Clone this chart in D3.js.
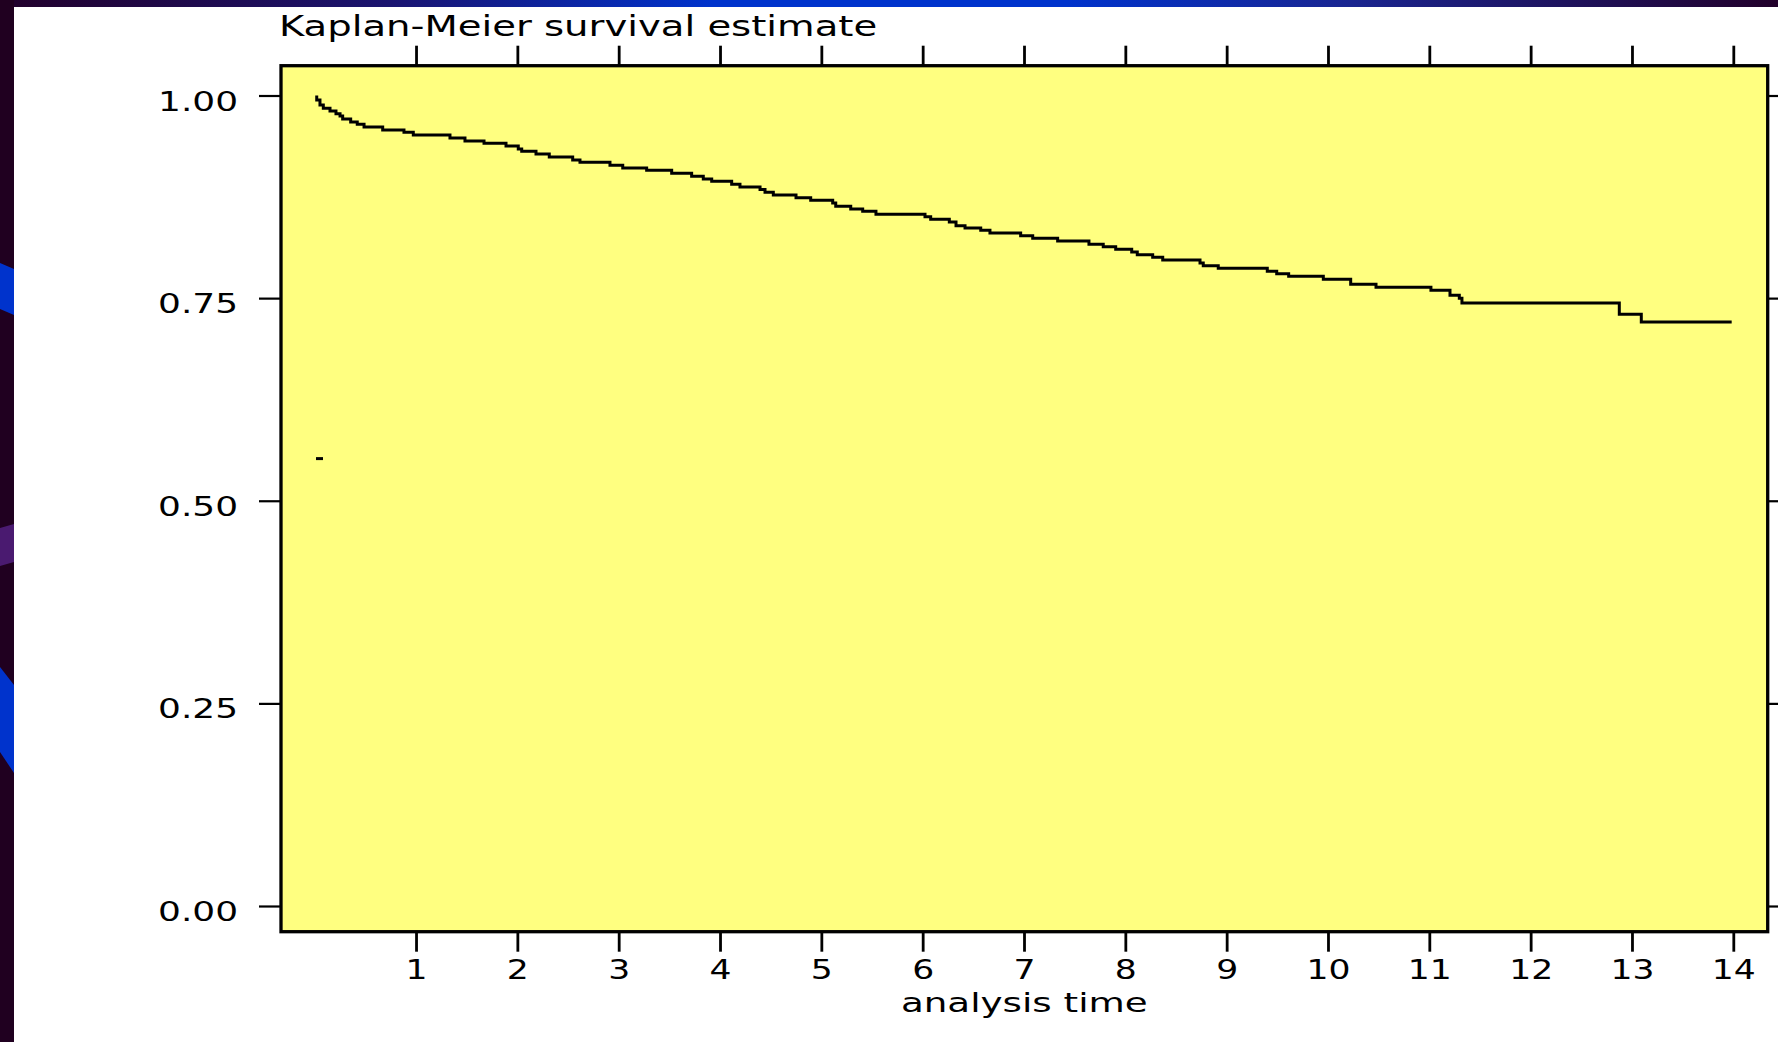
<!DOCTYPE html>
<html>
<head>
<meta charset="utf-8">
<script src="https://cdn.jsdelivr.net/npm/d3@7/dist/d3.min.js"></script>
<style>
  html, body { margin: 0; padding: 0; background: #ffffff; }
  svg { display: block; }
  text { font-family: "DejaVu Sans", "Liberation Sans", sans-serif; fill: #000; }
</style>
</head>
<body>
<svg id="chart" width="1778" height="1042"></svg>
<script>
// ---------------- data ----------------
const chartTitle = "Kaplan-Meier survival estimate";
const xAxisTitle = "analysis time";
const xTickValues = [1, 2, 3, 4, 5, 6, 7, 8, 9, 10, 11, 12, 13, 14];
const yTickValues = [0, 0.25, 0.5, 0.75, 1];

// step times (analysis time) and survival estimate after each step
const stepTimes = [0.02, 0.02, 0.052, 0.085, 0.151, 0.210, 0.250, 0.276, 0.355, 0.420, 0.487, 0.671, 0.881, 0.973,
  1.335, 1.483, 1.671, 1.888,
  2.009, 2.043, 2.184, 2.315, 2.546, 2.618, 2.914,
  3.040, 3.276, 3.523, 3.720, 3.835, 3.918,
  4.115, 4.197, 4.395, 4.444, 4.526, 4.750, 4.895,
  5.112, 5.142, 5.290, 5.408, 5.539,
  6.023, 6.079, 6.263, 6.329, 6.418, 6.573, 6.664, 6.967,
  7.086, 7.332, 7.641, 7.782, 7.905,
  8.063, 8.118, 8.270, 8.369, 8.737, 8.769, 8.917,
  9.401, 9.494, 9.612, 9.954,
  10.224, 10.474,
  11.016, 11.204, 11.296, 11.322,
  12.875, 13.092, 13.984];
const survival = [1.0, 0.9944, 0.9883, 0.9842, 0.9809, 0.9775, 0.9747, 0.9710, 0.9673, 0.9644, 0.9611, 0.9574, 0.9546, 0.9513,
  0.9476, 0.9439, 0.9410, 0.9377,
  0.9340, 0.9312, 0.9278, 0.9241, 0.9204, 0.9176, 0.9139,
  0.9105, 0.9077, 0.9040, 0.9003, 0.8970, 0.8941,
  0.8904, 0.8871, 0.8840, 0.8806, 0.8772, 0.8739, 0.8707,
  0.8674, 0.8633, 0.8600, 0.8571, 0.8534,
  0.8505, 0.8472, 0.8439, 0.8393, 0.8365, 0.8337, 0.8303, 0.8270,
  0.8238, 0.8205, 0.8164, 0.8135, 0.8102,
  0.8069, 0.8036, 0.8004, 0.7970, 0.7933, 0.7900, 0.7868,
  0.7831, 0.7801, 0.7769, 0.7732,
  0.7671, 0.7634,
  0.7597, 0.7535, 0.7498, 0.7440,
  0.7300, 0.7205, 0.7205];

// small stray mark seen near the start of the plot
const strayTimes = [0.013, 0.082];
const strayValues = [0.552, 0.552];

// ---------------- layout ----------------
const W = 1778, H = 1042;
const frame = { left: 281, top: 65.7, right: 1767.7, bottom: 931.7 };
const TEXT_STRETCH = 1.33;

const svg = d3.select("#chart");

// background decoration
const defs = svg.append("defs");
const grad = defs.append("linearGradient").attr("id", "topbar").attr("x1", 0).attr("x2", 1).attr("y1", 0).attr("y2", 0);
[[0, "#22002a"], [0.22, "#1a1470"], [0.4, "#0033cc"], [0.6, "#0033cc"], [0.76, "#1a2590"], [1, "#22002a"]]
  .forEach(([o, c]) => grad.append("stop").attr("offset", o).attr("stop-color", c));

svg.append("rect").attr("x", 0).attr("y", 0).attr("width", W).attr("height", H).attr("fill", "#ffffff");
svg.append("rect").attr("x", 0).attr("y", 0).attr("width", W).attr("height", 7).attr("fill", "url(#topbar)");
svg.append("rect").attr("x", 0).attr("y", 0).attr("width", 14).attr("height", H).attr("fill", "#200020");
const deco = [
  { pts: [[0, 263], [14, 269], [14, 315], [0, 309]], c: "#0033cc" },
  { pts: [[0, 528], [14, 524], [14, 562], [0, 566]], c: "#4a1a70" },
  { pts: [[0, 667], [14, 685], [14, 773], [0, 752]], c: "#0033cc" }
];
svg.selectAll("polygon.deco").data(deco).join("polygon").attr("class", "deco")
  .attr("points", d => d.pts.map(p => p.join(",")).join(" ")).attr("fill", d => d.c);

// scales: ticks measured at t=0 -> 314.7, t=14 -> 1733.3 ; S=1 -> 95.5, S=0 -> 906
const x = d3.scaleLinear().domain([0, 14]).range([314.7, 1733.3]);
const y = d3.scaleLinear().domain([0, 1]).range([906, 95.5]);

// plot region
svg.append("rect")
  .attr("x", frame.left).attr("y", frame.top)
  .attr("width", frame.right - frame.left).attr("height", frame.bottom - frame.top)
  .attr("fill", "#ffff80");

function stretch(sel, k) {
  sel.each(function () {
    const w = this.getComputedTextLength();
    this.setAttribute("textLength", w * k);
    this.setAttribute("lengthAdjust", "spacingAndGlyphs");
  });
}

// axes
const gLeft = svg.append("g").attr("transform", `translate(${frame.left},0)`)
  .call(d3.axisLeft(y).tickValues(yTickValues).tickFormat(d3.format(".2f")).tickSize(22).tickPadding(21));
const gRight = svg.append("g").attr("transform", `translate(${frame.right},0)`)
  .call(d3.axisRight(y).tickValues(yTickValues).tickFormat("").tickSize(22));
const gBottom = svg.append("g").attr("transform", `translate(0,${frame.bottom})`)
  .call(d3.axisBottom(x).tickValues(xTickValues).tickFormat(d3.format("d")).tickSize(20).tickPadding(8));
const gTop = svg.append("g").attr("transform", `translate(0,${frame.top})`)
  .call(d3.axisTop(x).tickValues(xTickValues).tickFormat("").tickSize(20));

[gLeft, gRight, gBottom, gTop].forEach(g => {
  g.select(".domain").remove();
  g.selectAll("text").attr("font-family", null).attr("font-size", null);
});
gLeft.selectAll(".tick line").attr("stroke", "#000").attr("stroke-width", 2.2);
gRight.selectAll(".tick line").attr("stroke", "#000").attr("stroke-width", 2.2);
gBottom.selectAll(".tick line").attr("stroke", "#000").attr("stroke-width", 2.8);
gTop.selectAll(".tick line").attr("stroke", "#000").attr("stroke-width", 2.8);

gLeft.selectAll(".tick text").style("font-size", "27px").attr("dy", "0.54em");
gBottom.selectAll(".tick text").style("font-size", "27px");
stretch(gLeft.selectAll(".tick text"), TEXT_STRETCH);
stretch(gBottom.selectAll(".tick text"), 1.28);

// frame on top of ticks
svg.append("rect")
  .attr("x", frame.left).attr("y", frame.top)
  .attr("width", frame.right - frame.left).attr("height", frame.bottom - frame.top)
  .attr("fill", "none").attr("stroke", "#000").attr("stroke-width", 3.3);

// survival curve
const kmData = stepTimes.map((t, i) => ({ t, s: survival[i] }));
const line = d3.line().x(d => x(d.t)).y(d => y(d.s)).curve(d3.curveStepAfter);
svg.append("path").datum(kmData)
  .attr("d", line)
  .attr("fill", "none").attr("stroke", "#000").attr("stroke-width", 3)
  .attr("stroke-linejoin", "miter").attr("stroke-linecap", "butt");

const strayData = strayTimes.map((t, i) => ({ t, s: strayValues[i] }));
svg.append("path").datum(strayData)
  .attr("d", d3.line().x(d => x(d.t)).y(d => y(d.s)))
  .attr("fill", "none").attr("stroke", "#000").attr("stroke-width", 3);

// titles
const title = svg.append("text")
  .attr("x", 279).attr("y", 36)
  .style("font-size", "29px")
  .text(chartTitle);
stretch(title, TEXT_STRETCH);

const xt = svg.append("text")
  .attr("x", (frame.left + frame.right) / 2).attr("y", 1012)
  .attr("text-anchor", "middle")
  .style("font-size", "27px")
  .text(xAxisTitle);
stretch(xt, 1.38);
</script>
</body>
</html>
